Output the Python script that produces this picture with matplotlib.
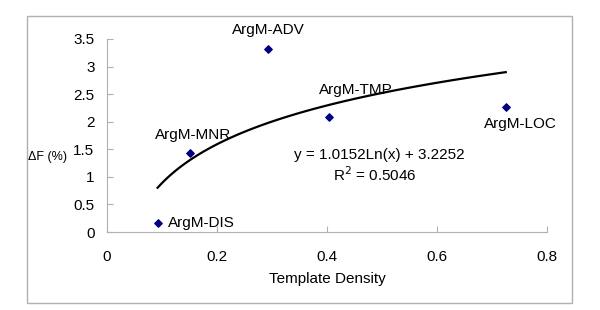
import matplotlib
matplotlib.use('Agg')
import matplotlib.pyplot as plt
import numpy as np
from matplotlib.patches import Rectangle

plt.rcParams['font.family'] = ['Liberation Sans', 'DejaVu Sans']

# data
labels = ['ArgM-DIS', 'ArgM-MNR', 'ArgM-ADV', 'ArgM-TMP', 'ArgM-LOC']
density = [0.092, 0.151, 0.293, 0.404, 0.725]
delta_f = [0.16, 1.44, 3.32, 2.08, 2.27]
fit_a, fit_b = 1.0152, 3.2252
x_ticks = [0, 0.2, 0.4, 0.6, 0.8]
y_ticks = [0, 0.5, 1, 1.5, 2, 2.5, 3, 3.5]

# label offsets in pixels from each point (x, y, ha)
offsets = {
    'ArgM-DIS': (10, 0, 'left'),
    'ArgM-MNR': (3, 18, 'center'),
    'ArgM-ADV': (0, 19, 'center'),
    'ArgM-TMP': (27, 27, 'center'),
    'ArgM-LOC': (15, -17, 'center'),
}

fig = plt.figure(figsize=(6, 3.1), dpi=100)
ax = fig.add_axes([107/600, 1 - 232/310, 440/600, 193/310])

# outer chart border
fig.patches.append(Rectangle((27/600, 1 - 303/310), 545/600, 287/310,
                             transform=fig.transFigure, fill=False,
                             edgecolor='#b0b0b0', linewidth=1))

# log trend line
xf = np.linspace(min(density), max(density), 100)
ax.plot(xf, fit_a * np.log(xf) + fit_b, color='black', linewidth=1.6)

ax.scatter(density, delta_f, marker='D', s=14, color='#000080', zorder=3)

for lab, x, y in zip(labels, density, delta_f):
    dx, dy, ha = offsets[lab]
    ax.annotate(lab, (x, y), xytext=(dx, dy), textcoords='offset pixels',
                ha=ha, va='center', fontsize=11)

ax.text(0.62, 0.40, 'y = 1.0152Ln(x) + 3.2252', transform=ax.transAxes,
        ha='center', va='center', fontsize=11)
ax.text(0.609, 0.295, 'R$^2$ = 0.5046', transform=ax.transAxes,
        ha='center', va='center', fontsize=11)

ax.set_xlim(0, 0.8)
ax.set_ylim(0, 3.5)
ax.set_xticks(x_ticks)
ax.set_xticklabels(['0', '0.2', '0.4', '0.6', '0.8'])
ax.set_yticks(y_ticks)
ax.set_yticklabels(['0', '0.5', '1', '1.5', '2', '2.5', '3', '3.5'])
ax.tick_params(direction='in', length=4, color='#b0b0b0', labelsize=11, pad=9)
ax.tick_params(axis='x', pad=13)

for s in ['top', 'right']:
    ax.spines[s].set_visible(False)
for s in ['left', 'bottom']:
    ax.spines[s].set_color('#b0b0b0')

ax.set_xlabel('Template Density', fontsize=11, labelpad=6)
fig.text(47/600, 1 - 157/310, 'ΔF (%)', ha='center', va='center', fontsize=9)

fig.savefig('out.png', dpi=100)
